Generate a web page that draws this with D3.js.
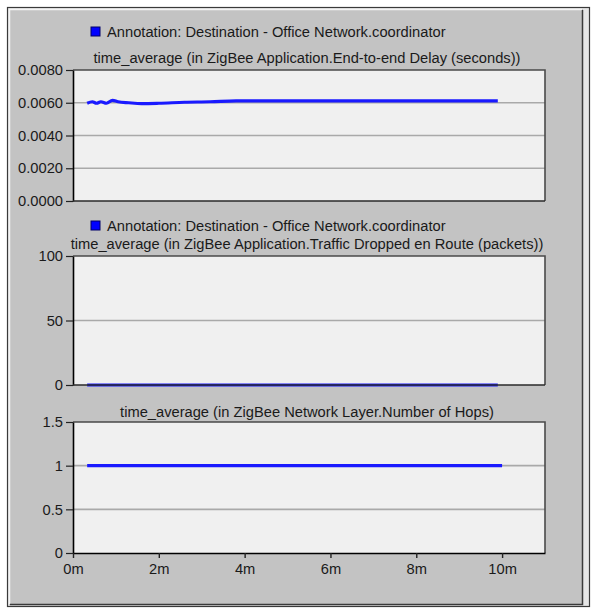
<!DOCTYPE html>
<html>
<head>
<meta charset="utf-8">
<script src="https://cdn.jsdelivr.net/npm/d3@7"></script>
<style>
  html, body { margin: 0; padding: 0; background: #ffffff; }
  svg { display: block; }
  text { font-family: "Liberation Sans", Arial, sans-serif; fill: #1a1a1a; }
</style>
</head>
<body>
<svg id="chart" width="595" height="608"></svg>
<script>
// Simulation time axis (minutes)
const xTicks = [0, 2, 4, 6, 8, 10];

// Panel 1: end-to-end delay (seconds), time-averaged
const delayTimes  = [0.33, 0.45, 0.55, 0.65, 0.78, 0.92, 1.05, 1.3, 1.6, 2.0, 2.6, 3.2, 3.8, 5.0, 7.0, 9.9];
const delayValues = [0.00597, 0.00606, 0.00597, 0.00606, 0.00597, 0.00615, 0.00606, 0.0060, 0.00595, 0.00597, 0.00603, 0.00606, 0.00612, 0.00612, 0.00612, 0.00612];
const delayTicks  = [0, 0.002, 0.004, 0.006, 0.008];

// Panel 2: traffic dropped en route (packets)
const dropTimes  = [0.33, 5.0, 9.9];
const dropValues = [0, 0, 0];
const dropTicks  = [0, 50, 100];

// Panel 3: number of hops
const hopTimes  = [0.33, 5.0, 10.0];
const hopValues = [1, 1, 1];
const hopTicks  = [0, 0.5, 1, 1.5];

const legendText = "Annotation: Destination - Office Network.coordinator";

const svg = d3.select("#chart");
const FS = "14.7px";

// Window frame
svg.append("rect").attr("x", 7).attr("y", 7).attr("width", 583).attr("height", 600).attr("fill", "#e6e6e6");
svg.append("rect").attr("x", 7.5).attr("y", 7.5).attr("width", 582).attr("height", 599)
  .attr("fill", "none").attr("stroke", "#3a3a3a").attr("stroke-width", 1.2);
svg.append("rect").attr("x", 9).attr("y", 9).attr("width", 574).attr("height", 596).attr("fill", "#c3c3c3");
svg.append("path").attr("d", "M9.5,604 L9.5,9.5 L582,9.5").attr("fill", "none").attr("stroke", "#f4f4f4").attr("stroke-width", 1.5);
svg.append("path").attr("d", "M10,604.5 L582.5,604.5 L582.5,10").attr("fill", "none").attr("stroke", "#3a3a3a").attr("stroke-width", 1.5);

const x = d3.scaleLinear().domain([0, 11]).range([73, 545]);

const panels = [
  { top: 70, bottom: 201, domain: [0, 0.008], ticks: delayTicks, fmt: d3.format(".4f"),
    times: delayTimes, values: delayValues, legendY: 32, title: "time_average (in ZigBee Application.End-to-end Delay (seconds))", titleY: 58, xAxis: false },
  { top: 256, bottom: 385, domain: [0, 100], ticks: dropTicks, fmt: d3.format("d"),
    times: dropTimes, values: dropValues, legendY: 226, title: "time_average (in ZigBee Application.Traffic Dropped en Route (packets))", titleY: 244, xAxis: false },
  { top: 422, bottom: 553, domain: [0, 1.5], ticks: hopTicks, fmt: d => String(d),
    times: hopTimes, values: hopValues, legendY: null, title: "time_average (in ZigBee Network Layer.Number of Hops)", titleY: 412, xAxis: true }
];

panels.forEach(p => {
  const y = d3.scaleLinear().domain(p.domain).range([p.bottom, p.top]);
  const g = svg.append("g");
  const [x0, x1] = x.range();

  // plot background
  g.append("rect").attr("x", x0).attr("y", p.top).attr("width", x1 - x0).attr("height", p.bottom - p.top)
    .attr("fill", "#f0f0f0");

  // interior gridlines
  g.selectAll("line.grid").data(p.ticks.filter(t => t > p.domain[0] && t < p.domain[1]))
    .join("line").attr("class", "grid")
    .attr("x1", x0).attr("x2", x1)
    .attr("y1", d => y(d)).attr("y2", d => y(d))
    .attr("stroke", "#a9a9a9").attr("stroke-width", 1.6);

  // top/right frame of the plot
  g.append("path").attr("d", `M${x0},${p.top} L${x1},${p.top} L${x1},${p.bottom}`)
    .attr("fill", "none").attr("stroke", "#4a4a4a").attr("stroke-width", 1.6);

  // series line
  const line = d3.line().x((d, i) => x(p.times[i])).y(d => y(d)).curve(d3.curveMonotoneX);
  g.append("path").datum(p.values).attr("d", line)
    .attr("fill", "none").attr("stroke", "#1a1aff").attr("stroke-width", 3.2).attr("stroke-linecap", "butt");

  // y axis
  const yAxis = d3.axisLeft(y).tickValues(p.ticks).tickFormat(p.fmt).tickSize(7).tickSizeOuter(0).tickPadding(3);
  const ya = svg.append("g").attr("transform", `translate(${x0},0)`).call(yAxis);
  ya.select(".domain").attr("stroke", "#000").attr("stroke-width", 1.6);
  ya.selectAll(".tick line").attr("stroke", "#222").attr("stroke-width", 1.2);
  ya.selectAll(".tick text").attr("font-size", FS).attr("fill", "#1a1a1a").attr("font-family", null);

  // bottom axis line
  if (p.xAxis) {
    const xAxis = d3.axisBottom(x).tickValues(xTicks).tickFormat(d => d + "m").tickSize(5).tickSizeOuter(0).tickPadding(6);
    const xa = svg.append("g").attr("transform", `translate(0,${p.bottom})`).call(xAxis);
    xa.select(".domain").attr("stroke", "#000").attr("stroke-width", 1.6);
    xa.selectAll(".tick line").attr("stroke", "#222").attr("stroke-width", 1.4);
    xa.selectAll(".tick text").attr("font-size", FS).attr("fill", "#1a1a1a").attr("font-family", null);
  } else {
    svg.append("line").attr("x1", x0).attr("x2", x1).attr("y1", p.bottom).attr("y2", p.bottom)
      .attr("stroke", "#2a2a2a").attr("stroke-width", 1.6);
  }

  // legend entry
  if (p.legendY !== null) {
    svg.append("rect").attr("x", 91).attr("y", p.legendY - 5).attr("width", 9).attr("height", 9)
      .attr("fill", "#0000ff").attr("stroke", "#00006a").attr("stroke-width", 1);
    svg.append("text").attr("x", 107).attr("y", p.legendY).attr("dy", "0.35em")
      .attr("font-size", FS).text(legendText);
  }

  // panel title
  svg.append("text").attr("x", (x0 + x1) / 2 - 2).attr("y", p.titleY).attr("dy", "0.35em")
    .attr("text-anchor", "middle").attr("font-size", FS).text(p.title);
});
</script>
</body>
</html>
